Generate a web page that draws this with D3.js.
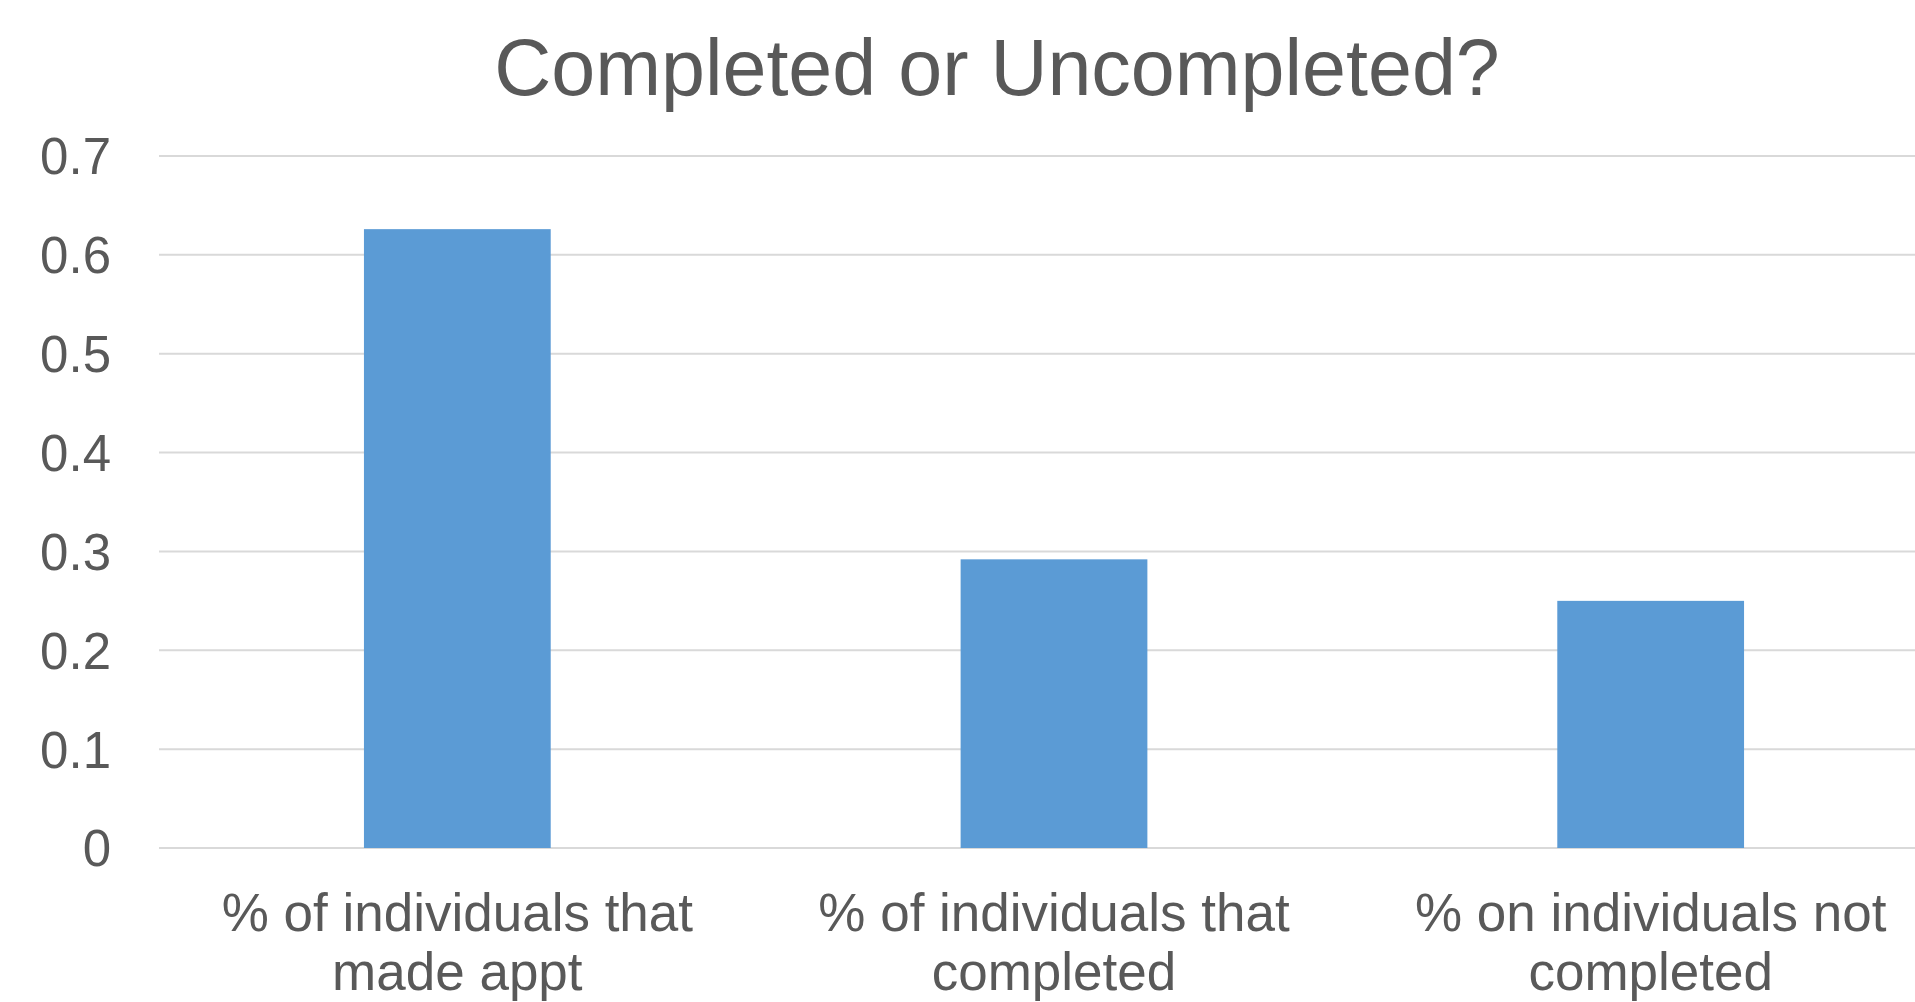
<!DOCTYPE html>
<html>
<head>
<meta charset="utf-8">
<script src="https://cdn.jsdelivr.net/npm/d3@7"></script>
<style>
  body { margin: 0; background: #fff; overflow: hidden; }
  text { font-family: "Liberation Sans", Arial, sans-serif; fill: #595959; }
</style>
</head>
<body>
<svg id="chart" width="1915" height="1002"></svg>
<script>
  // data
  const categories = [
    ['% of individuals that', 'made appt'],
    ['% of individuals that', 'completed'],
    ['% on individuals not', 'completed']
  ];
  const values = [0.626, 0.292, 0.25];
  const yTicks = [0, 0.1, 0.2, 0.3, 0.4, 0.5, 0.6, 0.7];
  const title = 'Completed or Uncompleted?';

  const W = 1915, H = 1002;
  const margin = {left: 159, top: 156, right: -34, bottom: 154};

  var svg = d3.select('#chart');

  var x = d3.scaleBand()
    .domain(d3.range(categories.length))
    .range([margin.left, W - margin.right])
    .paddingInner(0.687)
    .paddingOuter(0.3435);

  var y = d3.scaleLinear()
    .domain([0, 0.7])
    .range([H - margin.bottom, margin.top]);

  // gridlines
  svg.append('g')
    .selectAll('line')
    .data(yTicks)
    .enter()
    .append('line')
    .attr('x1', margin.left)
    .attr('x2', W - margin.right)
    .attr('y1', d => y(d))
    .attr('y2', d => y(d))
    .style('stroke', '#d9d9d9')
    .style('stroke-width', 2);

  // y labels
  svg.append('g')
    .selectAll('text')
    .data(yTicks)
    .enter()
    .append('text')
    .attr('x', 111)
    .attr('y', d => y(d))
    .attr('dy', '0.36em')
    .attr('text-anchor', 'end')
    .style('font-size', '51px')
    .text(d => d3.format('')(d));

  // bars
  svg.append('g')
    .selectAll('rect')
    .data(values)
    .enter()
    .append('rect')
    .attr('x', (d, i) => x(i))
    .attr('width', x.bandwidth())
    .attr('y', d => y(d))
    .attr('height', d => y(0) - y(d))
    .style('fill', '#5b9bd5');

  // category labels
  var cats = svg.append('g')
    .selectAll('text')
    .data(categories)
    .enter()
    .append('text')
    .attr('text-anchor', 'middle')
    .style('font-size', '53px')
    .attr('transform', (d, i) => 'translate(' + (x(i) + x.bandwidth() / 2) + ',931)');

  cats.selectAll('tspan')
    .data(d => d)
    .enter()
    .append('tspan')
    .attr('x', 0)
    .attr('y', (d, i) => i * 59)
    .text(d => d);

  // title
  svg.append('text')
    .attr('x', 997)
    .attr('y', 95)
    .attr('text-anchor', 'middle')
    .style('font-size', '79px')
    .text(title);
</script>
</body>
</html>
